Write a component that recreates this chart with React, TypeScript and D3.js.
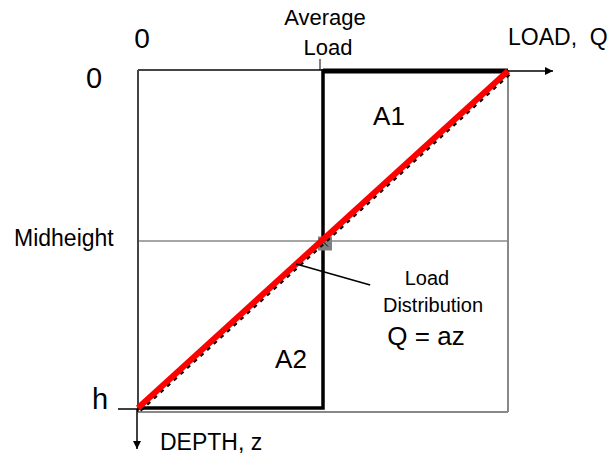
import React from "react";
import * as d3 from "d3";

// ---- data ----
const loadDomain = [0, 2];          // load axis, average load = 1
const depthDomain = [0, 1];         // depth axis, 0 = top, 1 = h
const averageLoad = 1;
// average-load step line (load, depth)
const stepLoads = [0, 1, 1, 2];
const stepDepths = [1, 1, 0, 0];
// linear load distribution Q = az (load, depth)
const distLoads = [0, 2];
const distDepths = [1, 0];
const depthLabels = ["0", "Midheight", "h"];
const loadTickLabels = ["0"];

const W = 611;
const H = 457;
const FONT = "'Liberation Sans', Arial, sans-serif";

export default function App() {
  const x = d3.scaleLinear().domain(loadDomain).range([138, 508]);
  const y = d3.scaleLinear().domain(depthDomain).range([71, 408]);

  const frameL = x(0);
  const frameR = x(2);
  const frameT = y(0) - 1;
  const frameB = y(1) + 4;
  const midY = (frameT + frameB) / 2;

  const line = d3
    .line<[number, number]>()
    .x((d) => x(d[0]))
    .y((d) => y(d[1]));

  const stepPts = stepLoads.map((l, i) => [l, stepDepths[i]] as [number, number]);
  const distPts = distLoads.map((l, i) => [l, distDepths[i]] as [number, number]);

  // leader start on the distribution line
  const leadLoad = 0.855;
  const leadDepth = 1 - leadLoad / 2;
  const lx = x(leadLoad);
  const ly = y(leadDepth);

  return (
    <svg width={W} height={H} style={{ position: "absolute", left: 0, top: 0 }} fontFamily={FONT}>
      <defs>
        <marker id="arr" viewBox="0 0 10 10" refX="10" refY="5" markerWidth="10" markerHeight="8" orient="auto" markerUnits="userSpaceOnUse">
          <path d="M0,0 L10,5 L0,10 z" fill="#000" />
        </marker>
      </defs>
      <rect width={W} height={H} fill="#fff" />

      {/* frame */}
      <line x1={frameL} x2={frameR} y1={midY} y2={midY} stroke="#888" strokeWidth={1.5} />
      <line x1={frameR} x2={frameR} y1={frameT} y2={frameB} stroke="#888" strokeWidth={2} />
      <line x1={frameL} x2={frameR} y1={frameB} y2={frameB} stroke="#888" strokeWidth={2} />
      <line x1={frameL} x2={frameR} y1={frameT} y2={frameT} stroke="#444" strokeWidth={2} />
      <line x1={frameL} x2={frameL} y1={frameT} y2={frameB} stroke="#444" strokeWidth={2} />

      {/* axes arrows */}
      <line x1={frameR} x2={frameR + 45} y1={y(0)} y2={y(0)} stroke="#000" strokeWidth={1.5} markerEnd="url(#arr)" />
      <line x1={frameL - 1} x2={frameL - 1} y1={frameB - 3} y2={449} stroke="#000" strokeWidth={1.5} markerEnd="url(#arr)" />
      {/* h tick */}
      <line x1={frameL - 20} x2={frameL} y1={y(1) + 1} y2={y(1) + 1} stroke="#000" strokeWidth={1.5} />
      {/* average load tick */}
      <line x1={x(averageLoad) - 3} x2={x(averageLoad) - 3} y1={59} y2={frameT} stroke="#000" strokeWidth={1} />

      {/* average load step */}
      <path d={line(stepPts) ?? ""} fill="none" stroke="#000" strokeWidth={3.5} />
      <line x1={x(1)} x2={x(2)} y1={y(0)} y2={y(0)} stroke="#000" strokeWidth={5} />

      {/* marker */}
      <rect x={x(averageLoad) - 5} y={y(0.5) - 3} width={14} height={14} fill="#808080" />
      <line x1={x(averageLoad) - 3} y1={y(0.5) - 1} x2={x(averageLoad) + 5} y2={y(0.5) + 7} stroke="#000" strokeWidth={1} />

      {/* distribution line */}
      <path d={line(distPts) ?? ""} transform="translate(2,2)" fill="none" stroke="#000" strokeWidth={4} strokeDasharray="4,5" />
      <path d={line(distPts) ?? ""} fill="none" stroke="#ff0000" strokeWidth={6} />

      {/* leader */}
      <line x1={lx} y1={ly} x2={lx + 74} y2={ly + 21} stroke="#000" strokeWidth={1.5} />

      {/* texts */}
      <text x={94} y={88} fontSize={29} textAnchor="middle">{depthLabels[0]}</text>
      <text x={14} y={246} fontSize={23}>{depthLabels[1]}</text>
      <text x={100} y={409} fontSize={29} textAnchor="middle">{depthLabels[2]}</text>
      <text x={142} y={48} fontSize={28} textAnchor="middle">{loadTickLabels[0]}</text>
      <text x={325} y={25} fontSize={22} textAnchor="middle">Average</text>
      <text x={328} y={55} fontSize={22} textAnchor="middle">Load</text>
      <text x={508} y={45} fontSize={23} style={{ whiteSpace: "pre" }}>{"LOAD,  Q"}</text>
      <text x={160} y={450} fontSize={23}>DEPTH, z</text>
      <text x={389} y={125} fontSize={26} textAnchor="middle">A1</text>
      <text x={291} y={368} fontSize={26} textAnchor="middle">A2</text>
      <text x={427} y={285} fontSize={20} textAnchor="middle">Load</text>
      <text x={433} y={312} fontSize={20} textAnchor="middle">Distribution</text>
      <text x={426} y={345} fontSize={26} textAnchor="middle">Q = az</text>
    </svg>
  );
}
